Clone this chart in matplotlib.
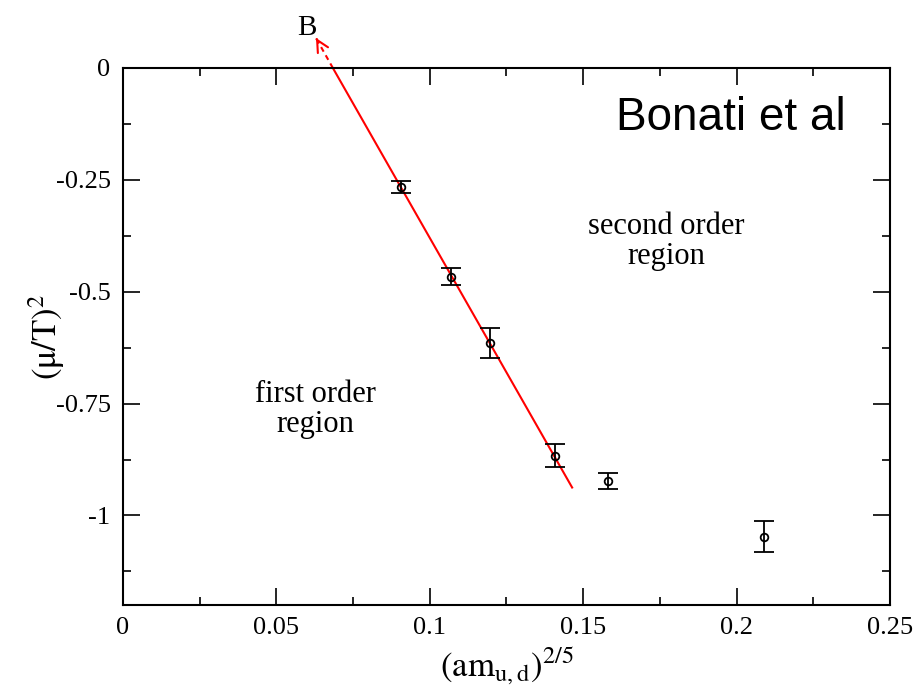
import numpy as np
import matplotlib.pyplot as plt
from matplotlib.ticker import MultipleLocator

# data
mass = [0.0906, 0.1069, 0.1196, 0.1408, 0.1581, 0.2089]
mu2 = [-0.2656, -0.4665, -0.614, -0.866, -0.922, -1.047]
mu2_err = [0.013, 0.019, 0.033, 0.025, 0.018, 0.035]

# critical line fit and its extrapolation to the tricritical point B
line_x = [0.0684, 0.1464]
line_y = [0.0, -0.9375]
ext_x = [0.0684, 0.0629]
ext_y = [0.0, 0.067]

plt.rcParams['font.family'] = ['Liberation Serif', 'DejaVu Serif']
plt.rcParams['mathtext.fontset'] = 'stix'

fig = plt.figure(figsize=(9.14, 6.93), dpi=100)
ax = fig.add_axes([0.1346, 0.127, 0.8391, 0.7749])

ax.plot(line_x, line_y, color='red', lw=1.5, zorder=2)
ax.plot(ext_x, ext_y, color='red', lw=1.5, ls=(0, (2.5, 2)), clip_on=False, zorder=2)
# solid arrow head at the end of the dashed part
ax.annotate('', xy=(ext_x[1], ext_y[1]),
            xytext=(ext_x[1] + 0.0002, ext_y[1] - 0.0024), annotation_clip=False,
            arrowprops=dict(arrowstyle='->,head_length=0.6,head_width=0.3', color='red',
                            lw=1.5, shrinkA=0, shrinkB=0, mutation_scale=14))
ax.text(0.0600, 0.060, 'B', fontsize=21, ha='center', va='bottom', clip_on=False)

ax.errorbar(mass, mu2, yerr=mu2_err, fmt='o', mfc='none', mec='black', color='black',
            ms=5.5, mew=1.3, elinewidth=1.3, capsize=7, capthick=1.3, zorder=3)

ax.text(0.0626, -0.763, 'first order\nregion', fontsize=22, ha='center', va='center',
        linespacing=1.05)
ax.text(0.177, -0.388, 'second order\nregion', fontsize=22, ha='center', va='center',
        linespacing=1.05)
ax.text(0.198, -0.112, 'Bonati et al', fontsize=33, ha='center', va='center',
        family='Liberation Sans')

ax.set_xlim(0, 0.25)
ax.set_ylim(-1.2, 0)
ax.set_xticks([0, 0.05, 0.1, 0.15, 0.2, 0.25])
ax.set_xticklabels(['0', '0.05', '0.1', '0.15', '0.2', '0.25'])
ax.set_yticks([0, -0.25, -0.5, -0.75, -1])
ax.set_yticklabels(['0', '-0.25', '-0.5', '-0.75', '-1'])
ax.xaxis.set_minor_locator(MultipleLocator(0.025))
ax.yaxis.set_minor_locator(MultipleLocator(0.125))
ax.tick_params(which='both', direction='in', top=True, right=True, labelsize=19, width=1.2)
ax.tick_params(which='major', length=12, pad=9)
ax.tick_params(which='minor', length=6)
for s in ax.spines.values():
    s.set_linewidth(1.5)

ax.set_xlabel(r'$(\mathrm{am}_{\mathrm{u,d}})^{2/5}$', fontsize=25, labelpad=4)
ax.set_ylabel(r'$(\mathrm{\mu/T})^{2}$', fontsize=25, labelpad=-8)

fig.savefig('out.png', dpi=100)
